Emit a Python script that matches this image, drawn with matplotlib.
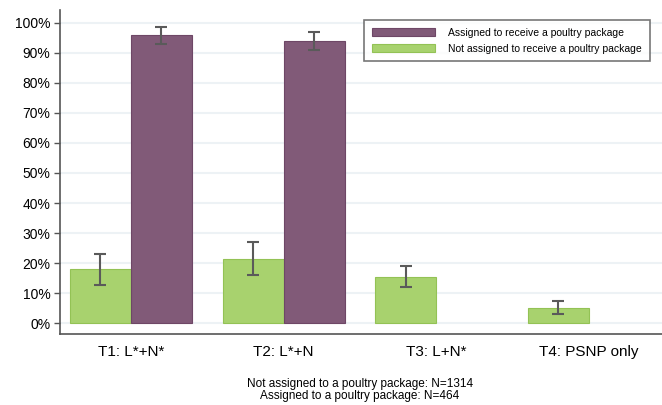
import numpy as np
import matplotlib
matplotlib.use('Agg')
import matplotlib.pyplot as plt
from matplotlib.ticker import PercentFormatter

plt.rcParams['font.family'] = ['Liberation Sans', 'DejaVu Sans']

# ----------------------------------------------------------------------
categories = ['T1: L*+N*', 'T2: L*+N', 'T3: L+N*', 'T4: PSNP only']

not_assigned = [17.9, 21.4, 15.5, 5.2]
not_assigned_lo = [12.7, 16.1, 12.2, 3.0]
not_assigned_hi = [23.1, 27.0, 19.1, 7.3]

assigned = [95.8, 94.0, np.nan, np.nan]
assigned_lo = [92.9, 90.9, np.nan, np.nan]
assigned_hi = [98.5, 97.0, np.nan, np.nan]

yticks = [0, 10, 20, 30, 40, 50, 60, 70, 80, 90, 100]
footnote = 'Not assigned to a poultry package: N=1314\nAssigned to a poultry package: N=464'
# ----------------------------------------------------------------------

green = '#a8d26e'
green_edge = '#93c255'
purple = '#815a78'
purple_edge = '#6e4766'
errc = '#5a5a5a'

fig = plt.figure(figsize=(6.62, 4.05), dpi=100)
ax = fig.add_axes([60/662, 71/405, 602/662, 324/405])

x = np.arange(len(categories))
w = 0.4

def err(vals, lo, hi):
    v = np.array(vals); l = np.array(lo); h = np.array(hi)
    return np.vstack([v - l, h - v])

ax.bar(x - w/2, not_assigned, w, color=green, edgecolor=green_edge, linewidth=0.8,
       yerr=err(not_assigned, not_assigned_lo, not_assigned_hi),
       error_kw=dict(ecolor=errc, elinewidth=1.5, capsize=4, capthick=1.5),
       label='Not assigned to receive a poultry package', zorder=3)
ax.bar(x + w/2, assigned, w, color=purple, edgecolor=purple_edge, linewidth=0.8,
       yerr=err(assigned, assigned_lo, assigned_hi),
       error_kw=dict(ecolor=errc, elinewidth=1.5, capsize=4, capthick=1.5),
       label='Assigned to receive a poultry package', zorder=3)

ax.set_xlim(-0.465, 3.48)
ax.set_ylim(-3.56, 104.2)
ax.set_yticks(yticks)
ax.yaxis.set_major_formatter(PercentFormatter(decimals=0))
ax.set_xticks(x)
ax.set_xticklabels(categories, fontsize=11)
ax.tick_params(axis='x', length=0, pad=8)
ax.tick_params(axis='y', length=4, width=1, color='#555555', labelsize=10, pad=3)
ax.grid(axis='y', color='#edf2f5', linewidth=1.5, zorder=0)
ax.set_axisbelow(True)
for s in ['top', 'right']:
    ax.spines[s].set_visible(False)
for s in ['left', 'bottom']:
    ax.spines[s].set_color('#555555')
    ax.spines[s].set_linewidth(1.2)

h, l = ax.get_legend_handles_labels()
leg = ax.legend(h[::-1], l[::-1], loc='upper right', bbox_to_anchor=(0.9885, 0.985),
                fontsize=7.5, frameon=True, fancybox=False, handlelength=6.0,
                handleheight=0.75, borderpad=0.75, labelspacing=0.55, handletextpad=1.3)
leg.get_frame().set_edgecolor('#555555')
leg.get_frame().set_linewidth(1.2)

fig.text(360/662, 1 - 390/405, footnote, ha='center', va='center', fontsize=8.5,
         linespacing=0.95)

fig.savefig('out.png', dpi=100)
